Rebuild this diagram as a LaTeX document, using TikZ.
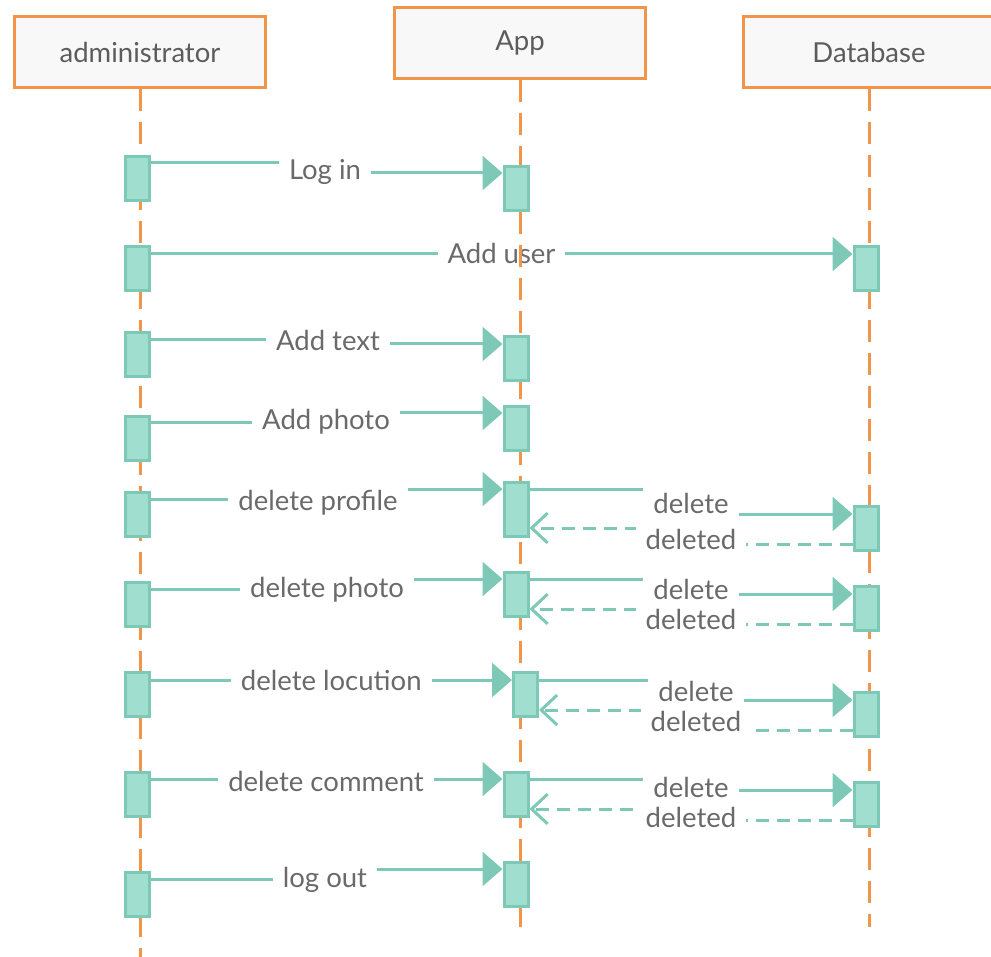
\documentclass[tikz,border=0pt]{standalone}
\usepackage{fontspec}
\setmainfont{Lato}
\usetikzlibrary{arrows.meta}
\definecolor{umlorange}{HTML}{F0954A}
\definecolor{headfill}{HTML}{F8F8F8}
\definecolor{headtext}{HTML}{5C5C5C}
\definecolor{tealline}{HTML}{7DC8B6}
\definecolor{tealfill}{HTML}{A0DFCF}
\definecolor{labeltext}{HTML}{6A6A6A}
\pgfdeclarelayer{msgs}
\pgfdeclarelayer{lines}
\pgfsetlayers{msgs,lines,main}
\begin{document}
\begin{tikzpicture}[x=1pt,y=-1pt,font=\fontsize{27.5pt}{32pt}\selectfont,
  actor/.style={draw=umlorange, fill=headfill, line width=3pt, minimum width=251pt, minimum height=71pt, text=headtext},
  lifeline/.style={draw=umlorange, line width=3pt, dash pattern=on 22pt off 11pt},
  act/.style={draw=tealline, fill=tealfill, line width=3pt, minimum width=24pt, minimum height=44pt, inner sep=0pt},
  call/.style={draw=tealline, line width=3pt, -{Triangle[length=20pt,width=34pt]}},
  reply/.style={draw=tealline, line width=3pt, dash pattern=on 13pt off 8pt, -{Straight Barb[length=16pt,width=30pt]}},
  lbl/.style={fill=white, text=labeltext, inner xsep=10pt, inner ysep=6pt, text height=20pt, text depth=0pt}]
\useasboundingbox (0,0) rectangle (991,957);
% heads
\node [actor] (adm) at (140,52.5) {administrator};
\node [actor] (app) at (520,43) {App};
\node [actor] (db) at (869,52) {Database};
% activations of administrator
\node [act] (a1) at (137,178.5) {};
\node [act] (a2) at (137,268.5) {};
\node [act] (a3) at (137,354.5) {};
\node [act] (a4) at (137,438.5) {};
\node [act] (a5) at (137,514.5) {};
\node [act] (a6) at (137,604.5) {};
\node [act] (a7) at (137,694.5) {};
\node [act] (a8) at (137,794.5) {};
\node [act] (a9) at (137,894.5) {};
% activations of App
\node [act] (p1) at (516,188.5) {};
\node [act] (p3) at (516,358.5) {};
\node [act] (p4) at (516,428.5) {};
\node [act, minimum height=54pt] (p5) at (516,509.5) {};
\node [act] (p6) at (516,594.5) {};
\node [act] (p7) at (525.5,694.5) {};
\node [act] (p8) at (516,794.5) {};
\node [act] (p9) at (516,884.5) {};
% activations of Database
\node [act] (d2) at (866,268.5) {};
\node [act] (d5) at (866,528.5) {};
\node [act] (d6) at (866,608.5) {};
\node [act] (d7) at (866,714.5) {};
\node [act] (d8) at (866,804.5) {};
% lifelines
\begin{pgfonlayer}{lines}
\coordinate (admend) at (140,957);
\coordinate (append) at (520,937);
\coordinate (dbend) at (869,927);
\draw [lifeline] (adm.south) -- (admend);
\draw [lifeline] (app.south) -- (append);
\draw [lifeline] (db.south) -- (dbend);
\end{pgfonlayer}
% messages
\begin{pgfonlayer}{msgs}
\draw [call] ([yshift=15.5pt]a1.east) -| (325,170) node [lbl] (m1) {Log in} |- ([yshift=15.5pt]p1.west);
\draw [call] ([yshift=14.5pt]a2.east) -- node [lbl] (m2) {Add user} ([yshift=14.5pt]d2.west);
\draw [call] ([yshift=14.5pt]a3.east) -| (328,341) node [lbl] (m3) {Add text} |- ([yshift=14.5pt]p3.west);
\draw [call] ([yshift=15.5pt]a4.east) -| (326,420) node [lbl] (m4) {Add photo} |- ([yshift=15.5pt]p4.west);
\draw [call] ([yshift=15.5pt]a5.east) -| (318,500) node [lbl] (m5) {delete profile} |- ([yshift=20.5pt]p5.west);
\draw [call] ([yshift=20.5pt]p5.east) -| (691,503) node [lbl] (n5) {delete} |- ([yshift=14.5pt]d5.west);
\draw [reply] ([yshift=-15.5pt]d5.west) -| (691,539) node [lbl] (r5) {deleted} |- ([yshift=-18.5pt]p5.east);
\draw [call] ([yshift=15.5pt]a6.east) -| (327,587) node [lbl] (m6) {delete photo} |- ([yshift=15.5pt]p6.west);
\draw [call] ([yshift=15.5pt]p6.east) -| (691,589) node [lbl] (n6) {delete} |- ([yshift=14.5pt]d6.west);
\draw [reply] ([yshift=-15.5pt]d6.west) -| (691,619) node [lbl] (r6) {deleted} |- ([yshift=-14.5pt]p6.east);
\draw [call] ([yshift=14.5pt]a7.east) -- node [lbl] (m7) {delete locution} ([yshift=14.5pt]p7.west);
\draw [call] ([yshift=14.5pt]p7.east) -| (696,691) node [lbl] (n7) {delete} |- ([yshift=14.5pt]d7.west);
\draw [reply] ([yshift=-15.5pt]d7.west) -| (696,721) node [lbl] (r7) {deleted} |- ([yshift=-15.5pt]p7.east);
\draw [call] ([yshift=15.5pt]a8.east) -| (326,781) node [lbl] (m8) {delete comment} |- ([yshift=15.5pt]p8.west);
\draw [call] ([yshift=15.5pt]p8.east) -| (691,787) node [lbl] (n8) {delete} |- ([yshift=14.5pt]d8.west);
\draw [reply] ([yshift=-15.5pt]d8.west) -| (691,817) node [lbl] (r8) {deleted} |- ([yshift=-14.5pt]p8.east);
\draw [call] ([yshift=15.5pt]a9.east) -| (325,877) node [lbl] (m9) {log out} |- ([yshift=15.5pt]p9.west);
\end{pgfonlayer}
\end{tikzpicture}
\end{document}
